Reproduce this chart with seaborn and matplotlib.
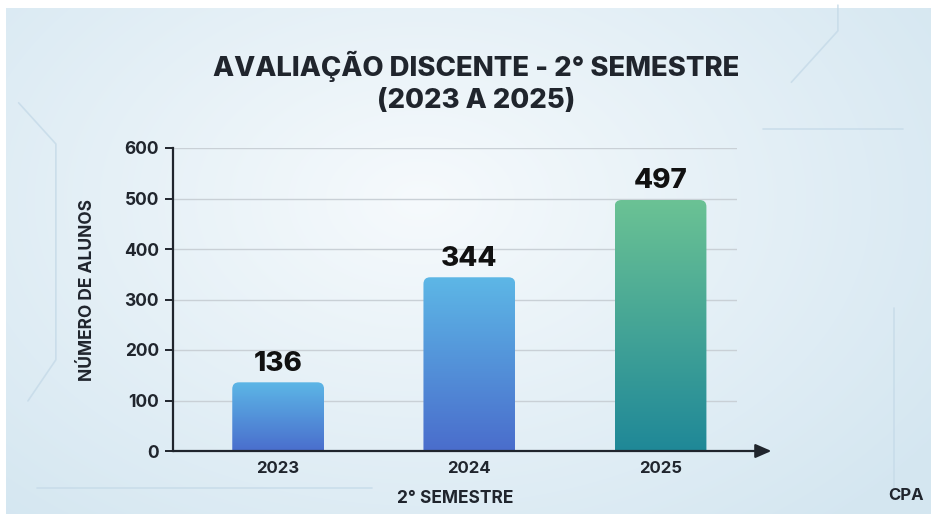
import numpy as np
import matplotlib
matplotlib.use("Agg")
import matplotlib.pyplot as plt
import seaborn as sns
from matplotlib.patches import FancyBboxPatch
from matplotlib.colors import LinearSegmentedColormap

# ---- data ----
years = ["2023", "2024", "2025"]
alunos = [136, 344, 497]
yticks = [0, 100, 200, 300, 400, 500, 600]
title = "AVALIAÇÃO DISCENTE - 2° SEMESTRE\n(2023 A 2025)"
ylabel = "NÚMERO DE ALUNOS"
xlabel = "2° SEMESTRE"

top_colors = ["#5cb6e6", "#5db7e6", "#6bc294"]
bot_colors = ["#4a6ecd", "#4a6dcc", "#1f8898"]

sns.set_theme(style="white")
plt.rcParams['font.family'] = ['Inter', 'DejaVu Sans']
DARK = "#20252d"

fig = plt.figure(figsize=(9.31, 5.14), dpi=100)

# background
bg = fig.add_axes([0, 0, 1, 1], zorder=-10)
H, W = 514, 931
yy, xx = np.mgrid[0:H, 0:W]
d = np.sqrt(((xx - 420) / 620.0) ** 2 + ((yy - 200) / 420.0) ** 2)
t = np.clip(d, 0, 1)
c0 = np.array([0.965, 0.980, 0.990])
c1 = np.array([0.835, 0.905, 0.945])
img = c0[None, None, :] * (1 - t[..., None]) + c1[None, None, :] * t[..., None]
img[:8, :, :] = 1.0
img[:, :6, :] = 1.0
bg.imshow(img, aspect='auto', extent=[0, 1, 0, 1], origin='upper')
# faint circuit decorations
for xs, ys in [([0.02, 0.06, 0.06, 0.03], [0.80, 0.72, 0.30, 0.22]),
               ([0.82, 0.97], [0.75, 0.75]),
               ([0.85, 0.90, 0.90], [0.84, 0.94, 0.99]),
               ([0.04, 0.40], [0.05, 0.05]),
               ([0.96, 0.96], [0.40, 0.05])]:
    bg.plot(xs, ys, color="#c5dae8", lw=1.2, alpha=0.8)
bg.set_xlim(0, 1); bg.set_ylim(0, 1)
bg.axis('off')

ax = fig.add_axes([173 / 931, 1 - 451 / 514, (737 - 173) / 931, (451 - 148) / 514])
ax.set_facecolor((0, 0, 0, 0))

sns.barplot(x=years, y=alunos, width=0.48, ax=ax, color="#5cb6e6")

ax.set_ylim(0, 600)
ax.set_xlim(-0.55, 2.40)

# aspect for rounding
px_x = (737 - 173) / 2.95
px_y = (451 - 148) / 600.0
aspect = px_x / px_y

for i, p in enumerate(list(ax.patches)):
    x0, w, h = p.get_x(), p.get_width(), p.get_height()
    p.set_visible(False)
    fb = FancyBboxPatch((x0, -20), w, h + 20,
                        boxstyle="round,pad=0,rounding_size=0.035",
                        mutation_aspect=aspect, facecolor='none', edgecolor='none',
                        transform=ax.transData, zorder=3)
    ax.add_patch(fb)
    cmap = LinearSegmentedColormap.from_list("g%d" % i, [bot_colors[i], top_colors[i]])
    grad = np.linspace(0, 1, 256).reshape(-1, 1)
    im = ax.imshow(grad, cmap=cmap, aspect='auto', origin='lower',
                   extent=[x0, x0 + w, 0, h], zorder=3)
    im.set_clip_path(fb)
    ax.annotate(str(alunos[i]), xy=(i, h), xytext=(0, 4), textcoords='offset points',
                ha='center', va='bottom', fontsize=20, fontweight='heavy', color="#111111")

ax.set_ylim(0, 600)
ax.set_xlim(-0.55, 2.40)
ax.set_yticks(yticks)
ax.set_yticklabels([str(v) for v in yticks])
ax.yaxis.grid(True, color="#c9d0d6", lw=1.0)
ax.set_axisbelow(True)
for s in ['top', 'right', 'bottom']:
    ax.spines[s].set_visible(False)
ax.spines['left'].set_color(DARK)
ax.spines['left'].set_linewidth(1.6)
ax.tick_params(axis='y', which='both', left=True, length=6, width=1.4, color=DARK,
               labelsize=12.5, labelcolor=DARK, pad=4)
ax.tick_params(axis='x', bottom=False, labelsize=12, labelcolor=DARK, pad=1)
for lab in ax.get_yticklabels() + ax.get_xticklabels():
    lab.set_fontweight('bold')

ax.annotate('', xy=(2.58, 0), xytext=(-0.55, 0), xycoords='data',
            arrowprops=dict(arrowstyle='-|>,head_length=0.8,head_width=0.35', lw=1.6,
                            color=DARK, shrinkA=0, shrinkB=0),
            annotation_clip=False, zorder=5)

ax.set_ylabel(ylabel, fontsize=12.5, fontweight='bold', color=DARK)
ax.yaxis.set_label_coords(-0.137, 0.53)
ax.set_xlabel(xlabel, fontsize=12.5, fontweight='bold', color=DARK, labelpad=10)

fig.text(476 / 931, 1 - 82 / 514, title, ha='center', va='center', fontsize=19.8,
         fontweight='heavy', color=DARK, linespacing=1.3)
fig.text(906 / 931, 1 - 495 / 514, "CPA", ha='center', va='center', fontsize=12,
         fontweight='bold', color=DARK)

fig.savefig("out.png", dpi=100)
